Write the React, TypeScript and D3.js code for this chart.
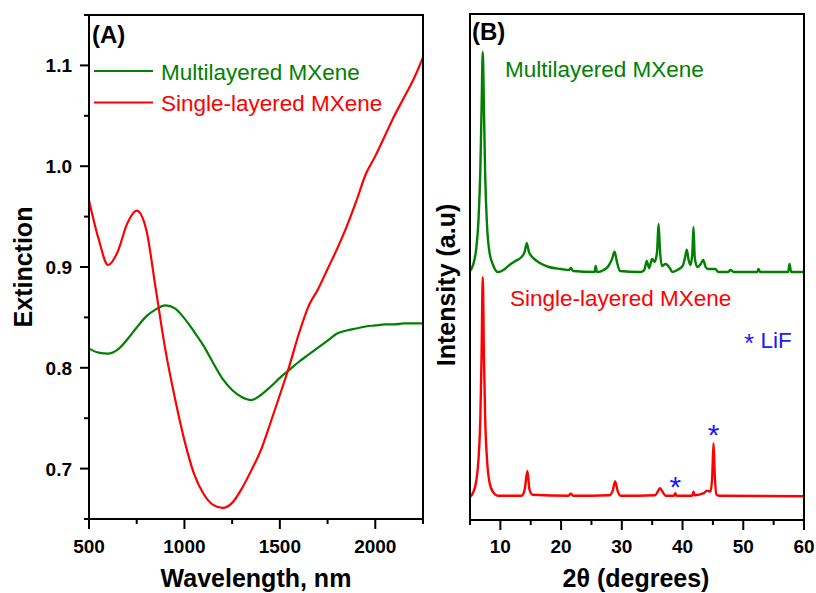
import React from "react";
import * as d3 from "d3";

// ---------- Panel A data (UV-vis-NIR extinction) ----------
const wavelengths = [500, 550, 600, 650, 700, 750, 800, 850, 900, 950, 1000, 1050, 1100, 1150, 1200, 1250, 1300, 1350, 1400, 1450, 1500, 1550, 1600, 1650, 1700, 1750, 1800, 1850, 1900, 1950, 2000, 2050, 2100, 2150, 2200, 2250];
const multiExtinction = [0.819, 0.815, 0.814, 0.818, 0.828, 0.840, 0.851, 0.858, 0.862, 0.859, 0.849, 0.836, 0.822, 0.805, 0.789, 0.778, 0.771, 0.768, 0.773, 0.781, 0.790, 0.798, 0.806, 0.813, 0.820, 0.827, 0.834, 0.837, 0.839, 0.841, 0.842, 0.843, 0.843, 0.844, 0.844, 0.844];
const singleExtinction = [0.966, 0.928, 0.902, 0.915, 0.943, 0.956, 0.937, 0.878, 0.818, 0.770, 0.728, 0.695, 0.675, 0.664, 0.661, 0.666, 0.680, 0.698, 0.718, 0.745, 0.773, 0.802, 0.834, 0.861, 0.878, 0.898, 0.918, 0.940, 0.965, 0.992, 1.010, 1.030, 1.050, 1.068, 1.086, 1.108];
const xTicksA = [500, 750, 1000, 1250, 1500, 1750, 2000, 2250];
const xLabelsA = [500, 1000, 1500, 2000];
const yTicksA = [0.65, 0.7, 0.75, 0.8, 0.85, 0.9, 0.95, 1.0, 1.05, 1.1, 1.15];
const yLabelsA = [0.7, 0.8, 0.9, 1.0, 1.1];

// ---------- Panel B data (XRD) ----------
const multiTheta = [5.0, 5.5, 6.0, 6.4, 6.7, 6.9, 7.1, 7.3, 7.5, 7.8, 8.2, 8.8, 9.6, 10.5, 11.5, 12.5, 13.5, 14.0, 14.35, 14.7, 15.4, 16.5, 18.0, 20.0, 21.3, 21.6, 22.0, 25.5, 25.7, 25.9, 27.0, 27.8, 28.4, 28.8, 29.2, 29.7, 33.0, 33.7, 34.1, 34.5, 35.0, 35.4, 35.8, 36.05, 36.3, 36.6, 37.2, 37.9, 38.3, 39.1, 40.0, 40.4, 40.7, 41.0, 41.3, 41.6, 41.8, 42.0, 42.4, 43.0, 43.4, 43.8, 44.2, 45.4, 45.9, 47.5, 47.9, 48.5, 52.3, 52.5, 52.8, 57.4, 57.6, 57.9, 60.0];
const multiIntensity = [49.2, 50.4, 53.4, 59.3, 69.2, 81.0, 92.5, 81.0, 68.2, 58.3, 53.0, 50.4, 49.0, 49.4, 50.4, 51.2, 52.0, 53.0, 54.7, 53.0, 51.8, 50.8, 50.0, 49.6, 49.4, 49.8, 49.2, 49.0, 50.2, 49.0, 49.4, 50.2, 51.6, 53.0, 51.0, 49.2, 49.0, 49.4, 51.2, 49.8, 51.6, 51.0, 53.0, 58.5, 53.0, 50.2, 50.6, 49.8, 49.0, 49.4, 50.2, 51.8, 53.4, 51.4, 50.4, 52.5, 57.9, 52.0, 50.0, 50.6, 51.4, 50.0, 49.6, 49.6, 49.0, 49.0, 49.4, 49.0, 49.0, 49.6, 49.0, 49.0, 50.6, 49.0, 49.0];
const singleTheta = [5.0, 5.5, 6.0, 6.4, 6.7, 6.9, 7.1, 7.3, 7.5, 7.8, 8.2, 8.8, 9.6, 13.5, 14.0, 14.45, 14.8, 15.3, 21.2, 21.6, 22.0, 28.0, 28.5, 28.9, 29.3, 29.8, 35.5, 36.0, 36.3, 36.7, 37.2, 38.6, 38.8, 39.0, 41.6, 41.8, 42.0, 43.5, 44.0, 44.6, 44.9, 45.1, 45.3, 45.6, 46.0, 60.0];
const singleIntensity = [4.6, 5.4, 7.5, 12.0, 20.0, 32.0, 48.0, 32.0, 20.0, 12.0, 7.5, 5.5, 4.8, 4.8, 6.0, 9.7, 6.0, 5.0, 4.8, 5.2, 4.8, 4.9, 5.8, 7.6, 5.8, 4.8, 4.9, 5.8, 6.3, 5.6, 4.8, 4.8, 5.3, 4.8, 4.8, 5.6, 4.9, 5.3, 5.8, 5.6, 9.0, 15.2, 9.0, 5.0, 4.8, 4.7];
const lifTheta = [38.8, 45.1];
const lifIntensity = [8.0, 18.2];
const xTicksB = [5, 10, 15, 20, 25, 30, 35, 40, 45, 50, 55, 60];
const xLabelsB = [10, 20, 30, 40, 50, 60];

const GREEN = "#008000";
const RED = "#ff0000";
const BLUE = "#1a1aff";
const FONT = "'Liberation Sans', Arial, Helvetica, sans-serif";

export default function App() {
  // Panel A
  const ax = d3.scaleLinear().domain([500, 2250]).range([89, 423]);
  const ay = d3.scaleLinear().domain([0.65, 1.15]).range([519, 15]);
  const lineA = d3
    .line<number>()
    .x((_, i) => ax(wavelengths[i]))
    .y((d) => ay(d))
    .curve(d3.curveMonotoneX);

  // Panel B
  const bx = d3.scaleLinear().domain([5, 60]).range([470, 804]);
  const by = d3.scaleLinear().domain([0, 100]).range([520, 14]);
  const lineB = d3
    .line<[number, number]>()
    .x((d) => bx(d[0]))
    .y((d) => by(d[1]))
    .curve(d3.curveMonotoneX);
  const multiPts = multiTheta.map((t, i) => [t, multiIntensity[i]] as [number, number]);
  const singlePts = singleTheta.map((t, i) => [t, singleIntensity[i]] as [number, number]);

  const tickFont = { fontFamily: FONT, fontWeight: 700, fontSize: 19 } as const;
  const titleFont = { fontFamily: FONT, fontWeight: 700, fontSize: 25 } as const;
  const legFont = { fontFamily: FONT, fontSize: 22.5 } as const;

  const aBottom = ay.range()[0];
  const aTop = ay.range()[1];
  const bBottom = by.range()[0];
  const bTop = by.range()[1];

  return (
    <svg
      width={816}
      height={593}
      style={{ position: "absolute", left: 0, top: 0, background: "#fff" }}
    >
      <rect width={816} height={593} fill="#fff" />

      {/* ---------- Panel A ---------- */}
      <g>
        <path d={lineA(multiExtinction) || ""} fill="none" stroke={GREEN} strokeWidth={2.2} />
        <path d={lineA(singleExtinction) || ""} fill="none" stroke={RED} strokeWidth={2.2} />
        <rect
          x={ax.range()[0]}
          y={aTop}
          width={ax.range()[1] - ax.range()[0]}
          height={aBottom - aTop}
          fill="none"
          stroke="#000"
          strokeWidth={2}
        />
        {xTicksA.map((t) => {
          const major = xLabelsA.includes(t);
          return (
            <line key={"axt" + t} x1={ax(t)} x2={ax(t)} y1={aBottom} y2={aBottom + (major ? 10 : 5)} stroke="#000" strokeWidth={2} />
          );
        })}
        {xLabelsA.map((t) => (
          <text key={"axl" + t} x={ax(t)} y={553} textAnchor="middle" {...tickFont}>
            {t}
          </text>
        ))}
        {yTicksA.map((t) => {
          const major = yLabelsA.some((v) => Math.abs(v - t) < 1e-9);
          return (
            <line key={"ayt" + t} x1={ax.range()[0] - (major ? 9 : 5)} x2={ax.range()[0]} y1={ay(t)} y2={ay(t)} stroke="#000" strokeWidth={2} />
          );
        })}
        {yLabelsA.map((t) => (
          <text key={"ayl" + t} x={72} y={ay(t) + 7} textAnchor="end" {...tickFont}>
            {t.toFixed(1)}
          </text>
        ))}
        <text x={256} y={587} textAnchor="middle" {...titleFont}>
          Wavelength, nm
        </text>
        <text transform={`translate(32,${(aTop + aBottom) / 2}) rotate(-90)`} textAnchor="middle" {...titleFont}>
          Extinction
        </text>
        <text x={92} y={43} fontFamily={FONT} fontWeight={700} fontSize={24}>
          (A)
        </text>
        {/* legend */}
        <line x1={94} x2={153} y1={71} y2={71} stroke={GREEN} strokeWidth={2.2} />
        <text x={161} y={80} fill={GREEN} {...legFont}>
          Multilayered MXene
        </text>
        <line x1={94} x2={153} y1={102.5} y2={102.5} stroke={RED} strokeWidth={2.2} />
        <text x={161} y={111} fill={RED} {...legFont}>
          Single-layered MXene
        </text>
      </g>

      {/* ---------- Panel B ---------- */}
      <g>
        <path d={lineB(multiPts) || ""} fill="none" stroke={GREEN} strokeWidth={2.4} />
        <path d={lineB(singlePts) || ""} fill="none" stroke={RED} strokeWidth={2.4} />
        <rect
          x={bx.range()[0]}
          y={bTop}
          width={bx.range()[1] - bx.range()[0]}
          height={bBottom - bTop}
          fill="none"
          stroke="#000"
          strokeWidth={2}
        />
        {xTicksB.map((t) => {
          const major = xLabelsB.includes(t);
          return (
            <line key={"bxt" + t} x1={bx(t)} x2={bx(t)} y1={bBottom} y2={bBottom + (major ? 10 : 5)} stroke="#000" strokeWidth={2} />
          );
        })}
        {xLabelsB.map((t) => (
          <text key={"bxl" + t} x={bx(t)} y={553} textAnchor="middle" {...tickFont}>
            {t}
          </text>
        ))}
        <text x={636} y={587} textAnchor="middle" {...titleFont}>
          2θ (degrees)
        </text>
        <text transform={`translate(455,285) rotate(-90)`} textAnchor="middle" {...titleFont}>
          Intensity (a.u)
        </text>
        <text x={472} y={40} fontFamily={FONT} fontWeight={700} fontSize={24}>
          (B)
        </text>
        <text x={505} y={77} fill={GREEN} {...legFont}>
          Multilayered MXene
        </text>
        <text x={510} y={306} fill={RED} {...legFont}>
          Single-layered MXene
        </text>
        <text x={744} y={348} fill={BLUE} {...legFont}>
          <tspan fontSize={26} dy={4}>*</tspan>
          <tspan dy={-4}> LiF</tspan>
        </text>
        {lifTheta.map((t, i) => (
          <text key={"lif" + t} x={bx(t)} y={by(lifIntensity[i]) + 17} textAnchor="middle" fill={BLUE} fontFamily={FONT} fontSize={30}>
            *
          </text>
        ))}
      </g>
    </svg>
  );
}
